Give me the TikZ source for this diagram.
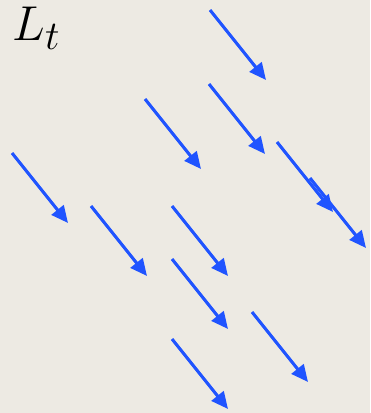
\documentclass[tikz,border=0pt]{standalone}
\usepackage{amsmath}
\usepackage{tikz}
\usetikzlibrary{arrows.meta}
\definecolor{paper}{RGB}{237,234,227}
\definecolor{fieldblue}{RGB}{32,84,255}

\begin{document}
\begin{tikzpicture}[x=0.025cm,y=-0.025cm,
    vec/.style={-{Triangle[length=0.42cm,width=0.38cm]},fieldblue,line width=2.2pt}]
    \fill[paper] (0,0) rectangle (370,413);
    \useasboundingbox (0,0) rectangle (370,413);
    \node[anchor=base west,inner sep=0pt,font=\Huge,scale=1.4] (label) at (12,41) {$L_t$};

    % tails of the field vectors
    \foreach \i/\x/\y in {1/210/10, 2/209/84, 3/145/99, 4/277/142, 5/310/178,
                          6/12/153, 7/91/206, 8/172/206, 9/172/259, 10/252/312, 11/172/339}
    {
      \coordinate (s\i) at (\x,\y);
      \coordinate (e\i) at (\x+56,\y+70);
      \draw[vec] (s\i) -- (e\i);
    }
  \end{tikzpicture}
\end{document}
